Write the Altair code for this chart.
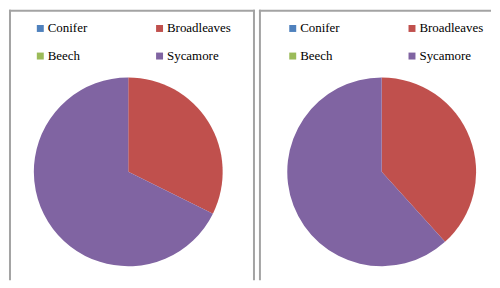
import altair as alt
import pandas as pd

species = ["Conifer", "Broadleaves", "Beech", "Sycamore"]
colors = ["#4F81BD", "#C0504D", "#9BBB59", "#8064A2"]
left_values = [0, 32.3, 0, 67.7]
right_values = [0, 38.3, 0, 61.7]

H = 272
FRAME = "#a3a3a3"
SERIF = "Liberation Serif, Times New Roman, Times, DejaVu Serif, serif"
one = pd.DataFrame({"k": [0]})


def panel(values, w, cx, cy, lx, ly, fx0, fx1):
    df = pd.DataFrame({"species": species, "value": values, "order": list(range(len(species)))})
    pie = alt.Chart(df).mark_arc(outerRadius=95).encode(
        theta=alt.Theta("value:Q", stack=True),
        color=alt.Color(
            "species:N",
            scale=alt.Scale(domain=species, range=colors),
            sort=species,
            legend=alt.Legend(
                title=None,
                orient="none",
                direction="horizontal",
                legendX=lx,
                legendY=ly,
                columns=2,
                columnPadding=66,
                rowPadding=14,
                symbolType="square",
                symbolSize=49,
                symbolStrokeWidth=0,
                labelFont=SERIF,
                labelFontSize=13,
                labelColor="black",
                labelOffset=1,
            ),
        ),
        order=alt.Order("order:Q"),
        x=alt.value(cx),
        y=alt.value(cy),
    )
    layers = [pie]
    layers.append(
        alt.Chart(one).mark_rule(color=FRAME, strokeWidth=2).encode(
            x=alt.value(fx0), y=alt.value(0), y2=alt.value(H)
        )
    )
    top_end = fx1 if fx1 is not None else w
    layers.append(
        alt.Chart(one).mark_rule(color=FRAME, strokeWidth=2).encode(
            x=alt.value(fx0 - 1), x2=alt.value(top_end + 1), y=alt.value(1)
        )
    )
    if fx1 is not None:
        layers.append(
            alt.Chart(one).mark_rule(color=FRAME, strokeWidth=2).encode(
                x=alt.value(fx1), y=alt.value(0), y2=alt.value(H)
            )
        )
    return alt.layer(*layers).properties(width=w, height=H)


left = panel(left_values, 250, 120, 163, 25, 12, 1, 246.5)
right = panel(right_values, 234, 125, 163, 29, 12, 2.5, None)

chart = (
    alt.hconcat(left, right, spacing=0)
    .resolve_legend(color="independent")
    .resolve_scale(color="independent")
    .properties(padding=0)
    .configure(font=SERIF)
    .configure_legend(labelFont=SERIF, labelFontSize=13, labelColor="black")
    .configure_view(stroke=None)
)

chart.save("out.html", embed_options={"renderer": "svg", "actions": False})
